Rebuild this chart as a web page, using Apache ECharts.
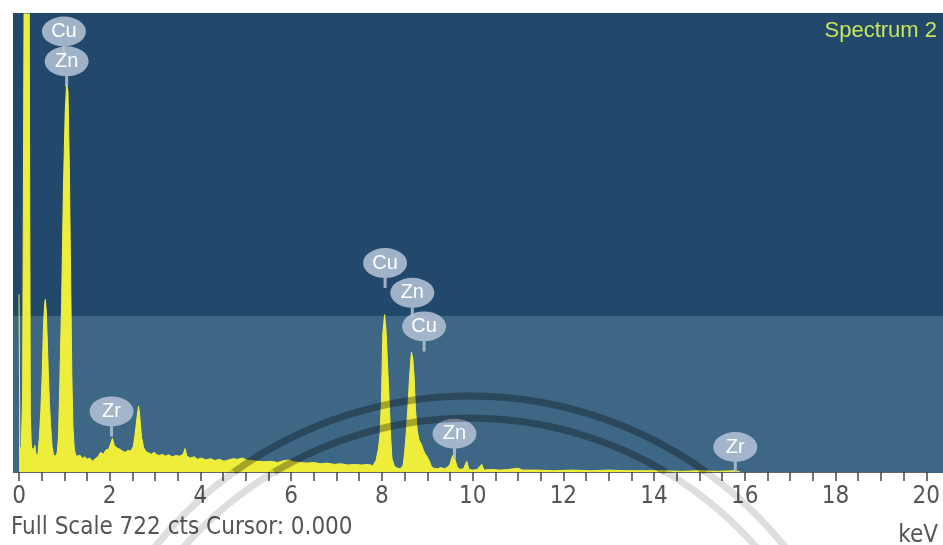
<!DOCTYPE html>
<html>
<head>
<meta charset="utf-8">
<script src="https://cdn.jsdelivr.net/npm/echarts@6/dist/echarts.min.js"></script>
<style>
html,body{margin:0;padding:0;background:#fff;}
#chart{width:943px;height:545px;}
</style>
</head>
<body>
<div id="chart"></div>
<script>
// ---- data ----
const fullScale = 722;
const energyKeV = [0.00,0.02,0.05,0.08,0.10,0.13,0.17,0.21,0.23,0.25,0.27,0.29,0.31,0.33,0.35,0.37,0.40,0.42,0.45,0.48,0.51,0.54,0.565,0.58,0.60,0.62,0.645,0.67,0.70,0.73,0.76,0.80,0.84,0.87,0.90,0.94,0.98,1.02,1.05,1.08,1.11,1.14,1.165,1.19,1.22,1.26,1.30,1.35,1.40,1.45,1.50,1.56,1.62,1.68,1.74,1.80,1.86,1.92,1.98,2.02,2.06,2.10,2.16,2.22,2.28,2.34,2.40,2.46,2.52,2.56,2.60,2.635,2.66,2.70,2.75,2.80,2.86,2.92,2.98,3.04,3.10,3.16,3.22,3.30,3.38,3.46,3.54,3.62,3.66,3.70,3.78,3.86,3.94,4.02,4.12,4.22,4.32,4.42,4.52,4.62,4.72,4.82,4.92,5.02,5.12,5.25,5.40,5.55,5.70,5.85,5.95,6.05,6.20,6.35,6.50,6.65,6.80,6.95,7.10,7.25,7.40,7.55,7.70,7.80,7.87,7.92,7.96,7.99,8.02,8.06,8.09,8.13,8.16,8.19,8.22,8.27,8.32,8.38,8.44,8.47,8.50,8.53,8.57,8.61,8.65,8.68,8.71,8.74,8.78,8.82,8.86,8.90,8.94,8.99,9.04,9.09,9.14,9.22,9.30,9.38,9.45,9.50,9.54,9.57,9.61,9.66,9.72,9.80,9.87,9.92,10.0,10.1,10.2,10.25,10.4,10.6,10.8,11.0,11.1,11.4,11.8,12.2,12.6,13.0,13.4,13.8,14.2,14.6,15.0,15.4,15.8,15.9];
const counts    = [280,40,35,120,500,1100,1400,1300,600,90,45,30,38,25,42,30,24,30,55,95,150,230,265,272,255,215,160,110,70,40,28,24,30,55,140,270,450,570,612,600,480,300,150,70,35,25,22,26,21,24,20,22,17,21,24,31,28,35,36,45,53,42,38,36,33,31,34,33,40,60,85,104,90,55,38,32,30,28,31,27,26,28,25,27,24,26,25,28,37,25,22,24,20,22,19,21,18,20,17,19,21,20,22,19,18,17,16,17,15,18,19,16,15,14,15,13,14,12,13,11,12,11,12,10,18,35,60,113,219,248,225,160,113,60,22,10,7,5,7,12,30,55,98,150,189,180,150,98,65,50,45,42,30,25,18,9,6,5,7,5,8,12,22,27,20,8,4,5,17,4,3,4,12,3,4,3,4,6,3,3,2,3,2,3,2,2,2,1,2,1,2,0];

// element markers (stem tip position in keV / counts)
const markerNames  = ['Cu','Zn','Cu','Zn','Cu','Zn','Zr','Zr'];
const markerKeV    = [0.99,1.05,8.07,8.67,8.93,9.60,2.04,15.79];
const markerCounts = [655,608,290,243,190,21,56,0];

const xTickLabels = [0,2,4,6,8,10,12,14,16,18,20];
const spectrumName = 'Spectrum 2';
const cursorText = 'Cursor: 0.000';
const unitText = 'keV';

// ---- chart ----
const chart = echarts.init(document.getElementById('chart'), null, {renderer:'canvas'});
const fontNarrow = "'Liberation Sans Narrow','DejaVu Sans Condensed','Liberation Sans',sans-serif";

const bubblePath = 'path://M0,15 A22,15 0 1,1 44,15 A22,15 0 1,1 0,15 Z M20.5,28 L23.5,28 L23.5,40 L20.5,40 Z';

// watermark arcs (upper parts lie over the plot, darker there)
const wmCx = 470, wmCy = 800, wmR = [404, 382], plotBottom = 472;
const wm = [];
wmR.forEach(r => {
  const a = Math.asin((plotBottom - wmCy) / r); // negative
  wm.push({type:'circle', z:100, silent:true, shape:{cx:wmCx, cy:wmCy, r:r}, style:{fill:'none', stroke:'rgba(0,0,0,0.13)', lineWidth:7}});
  wm.push({type:'arc', z:101, silent:true, shape:{cx:wmCx, cy:wmCy, r:r, startAngle:-Math.PI - a, endAngle:a, clockwise:true}, style:{fill:'none', stroke:'rgba(0,0,0,0.2)', lineWidth:7}});
});

const option = {
  animation: false,
  backgroundColor: '#ffffff',
  grid: {left: 19, right: 16, top: 14, bottom: 73, containLabel: false},
  xAxis: {
    type: 'value', min: 0, max: 20, interval: 0.5,
    axisLine: {show: true, onZero: false, lineStyle: {color: '#666', width: 1}},
    axisTick: {show: true, length: 9, lineStyle: {color: '#444', width: 1.5}},
    splitLine: {show: false},
    axisLabel: {
      margin: 13, color: '#555', fontSize: 24, fontFamily: fontNarrow,
      formatter: v => (xTickLabels.indexOf(v) >= 0 ? String(v) : '')
    }
  },
  yAxis: {
    type: 'value', min: 0, max: fullScale,
    show: false, splitLine: {show: false}
  },
  graphic: [
    {type:'rect', z:-10, shape:{x:13, y:13, width:930, height:303}, style:{fill:'#22496b'}},
    {type:'rect', z:-10, shape:{x:13, y:316, width:930, height:157}, style:{fill:'#3e6785'}},
    ...wm,
    {type:'text', z:50, style:{text: spectrumName, x:937, y:31, align:'right', verticalAlign:'middle', fill:'#c8e35c', fontSize:22, fontFamily:"'Liberation Sans',Arial,sans-serif"}},
    {type:'text', z:50, style:{text: 'Full Scale ' + fullScale + ' cts ' + cursorText, x:11, y:528, align:'left', verticalAlign:'middle', fill:'#555', fontSize:24, fontFamily: fontNarrow}},
    {type:'text', z:50, style:{text: unitText, x:938, y:536, align:'right', verticalAlign:'middle', fill:'#555', fontSize:24, fontFamily: fontNarrow}}
  ],
  series: [{
    type: 'line',
    data: energyKeV.map((k, i) => [k, counts[i]]),
    showSymbol: false,
    clip: true,
    lineStyle: {color: '#f0f040', width: 1},
    areaStyle: {color: '#eded3a', opacity: 1},
    z: 2,
    markPoint: {
      symbol: bubblePath,
      symbolSize: [44, 40],
      symbolOffset: [0, '-50%'],
      itemStyle: {color: 'rgba(178,192,212,0.88)'},
      label: {show: true, position: 'inside', offset: [0, -5], formatter: '{b}', color: '#ffffff', fontSize: 20, fontFamily: "'Liberation Sans',Arial,sans-serif"},
      data: markerNames.map((n, i) => ({name: n, coord: [markerKeV[i], markerCounts[i]]}))
    }
  }]
};
chart.setOption(option);
</script>
</body>
</html>
